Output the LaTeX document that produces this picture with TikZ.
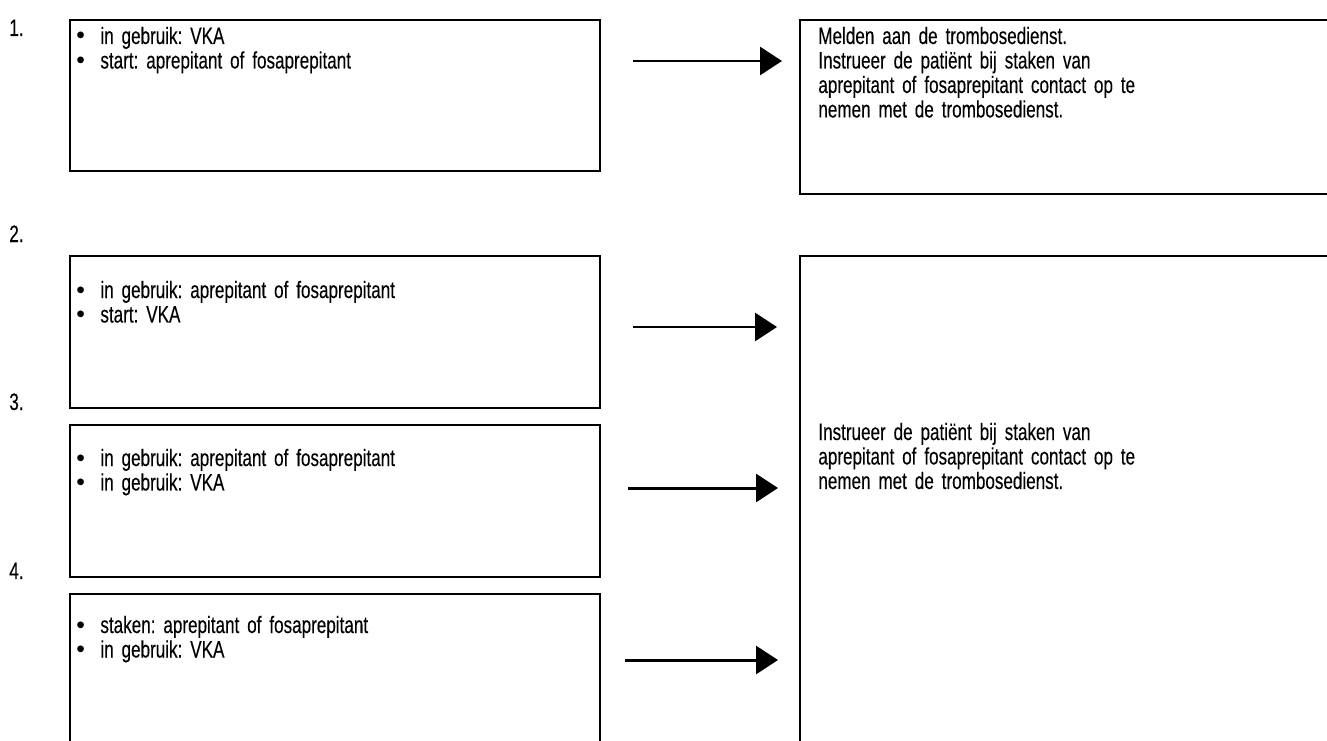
\documentclass[tikz,border=0pt]{standalone}
\usepackage{fontspec}
\setmainfont{Liberation Sans}[FakeStretch=0.72,FakeBold=0.2]
\newfontfamily\puntfont{Liberation Sans}
\usetikzlibrary{arrows.meta}

\newcommand{\punt}{\makebox[13.7pt][l]{\puntfont\fontsize{14pt}{14pt}\selectfont\textbullet}}

\begin{document}
\frenchspacing
\begin{tikzpicture}[x=0.02cm,y=-0.02cm,
  box/.style={draw, line width=1.1pt, anchor=north west, inner sep=0pt},
  txt/.style={anchor=base west, inner sep=0pt, align=left, text width=#1,
    font=\fontsize{13.5pt}{13.94pt}\selectfont},
  lbl/.style={anchor=base west, inner sep=0pt, font=\fontsize{13.5pt}{13.94pt}\selectfont},
  pijl/.style={line width=1.7pt, -{Triangle[length=0.44cm,width=0.56cm]}}]
\useasboundingbox (0,0) rectangle (1327,740);
\clip (0,0) rectangle (1327,740);

% links
\node[box, minimum width=10.6cm, minimum height=3.02cm] (b1) at (69,19) {};
\node[box, minimum width=10.6cm, minimum height=3.04cm] (b2) at (69,255) {};
\node[box, minimum width=10.6cm, minimum height=3.04cm] (b3) at (69,424) {};
\node[box, minimum width=10.6cm, minimum height=4cm] (b4) at (69,593) {};

% rechts
\node[box, minimum width=12cm, minimum height=3.48cm] (r1) at (799,19) {};
\node[box, minimum width=12cm, minimum height=12cm] (r2) at (799,255) {};

\node[lbl] (n1) at (9,36) {1.};
\node[lbl] (n2) at (9,242) {2.};
\node[lbl] (n3) at (9,410) {3.};
\node[lbl] (n4) at (9,579) {4.};

\node[txt=9.5cm] (t1) at (76,44) {\punt in gebruik: VKA\\ \punt start: aprepitant of fosaprepitant};
\node[txt=9.5cm] (t2) at (76,298) {\punt in gebruik: aprepitant of fosaprepitant\\ \punt start: VKA};
\node[txt=9.5cm] (t3) at (76,466) {\punt in gebruik: aprepitant of fosaprepitant\\ \punt in gebruik: VKA};
\node[txt=9.5cm] (t4) at (76,633) {\punt staken: aprepitant of fosaprepitant\\ \punt in gebruik: VKA};

\node[txt=9.8cm] (u1) at (818,44) {Melden aan de trombosedienst.\\ Instrueer de patiënt bij staken van\\ aprepitant of fosaprepitant contact op te\\ nemen met de trombosedienst.};
\node[txt=9.8cm] (u2) at (818,440) {Instrueer de patiënt bij staken van\\ aprepitant of fosaprepitant contact op te\\ nemen met de trombosedienst.};

\coordinate (s1) at (633,61);  \coordinate (e1) at (782,61);
\coordinate (s2) at (633,327); \coordinate (e2) at (777,327);
\coordinate (s3) at (628,488); \coordinate (e3) at (778,488);
\coordinate (s4) at (625,660); \coordinate (e4) at (778,660);
\draw[pijl] (s1) -- (e1);
\draw[pijl] (s2) -- (e2);
\draw[pijl] (s3) -- (e3);
\draw[pijl] (s4) -- (e4);
\end{tikzpicture}
\end{document}
